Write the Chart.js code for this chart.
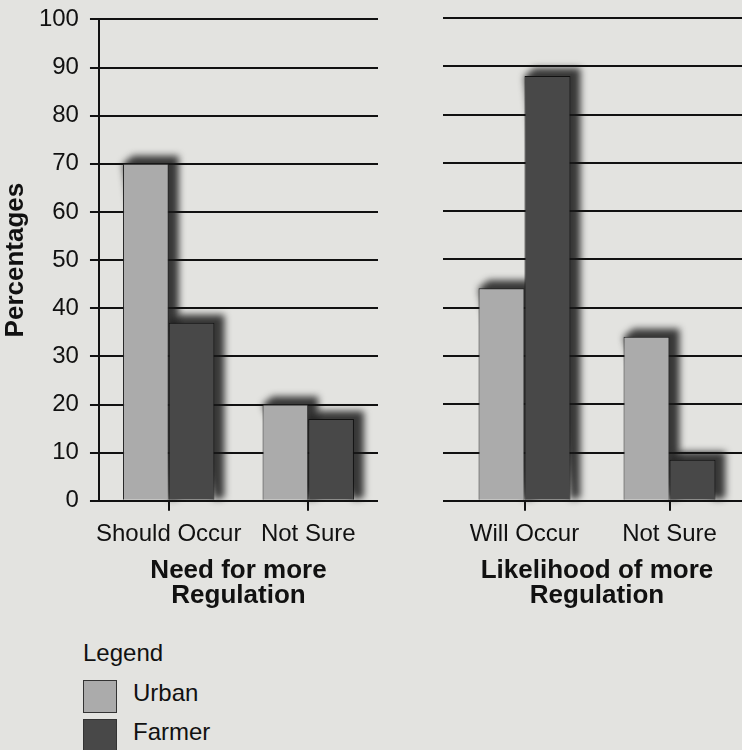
<!DOCTYPE html>
<html>
<head>
<meta charset="utf-8">
<script src="https://cdn.jsdelivr.net/npm/chart.js@4.4.1/dist/chart.umd.min.js"></script>
<style>
    html, body { margin: 0; padding: 0; }
    body {
        width: 742px; height: 750px; overflow: hidden; position: relative;
        background: #e3e3e0;
        font-family: "Liberation Sans", Arial, sans-serif; color: #111;
    }
    .panel { position: absolute; }
    #leftPanel { left: 0; top: -6px; width: 380px; height: 614px; }
    #rightPanel { left: 443px; top: 0; width: 299px; height: 608px; }
    #legend { position: absolute; left: 83px; top: 639px; font-size: 24px; line-height: 28px; }
    #legend .item { position: relative; height: 39px; }
    #legend .swatch {
        position: absolute; left: 0; top: 2px; width: 32px; height: 31px;
        border: 1px solid #333;
    }
    #legend .label { position: absolute; left: 50px; top: 1px; }
    #legend .head { height: 39px; }
</style>
</head>
<body>
<div class="panel" id="leftPanel"><canvas id="needChart"></canvas></div>
<div class="panel" id="rightPanel"><canvas id="likelyChart"></canvas></div>
<div id="legend"></div>

<script>
// --- Data ---
const needLabels = ['Should Occur', 'Not Sure'];
const likelyLabels = ['Will Occur', 'Not Sure'];
const urbanNeed = [70, 20];
const farmerNeed = [37, 17];
const urbanLikely = [44, 34];
const farmerLikely = [88, 8.5];
const seriesNames = ['Urban', 'Farmer'];
const yMin = 0;
const yMax = 100;
const yStep = 10;

const FONT = '"Liberation Sans", Arial, sans-serif';
const INK = '#111';
const urbanColor = '#ababab';
const farmerColor = '#484848';

// --- 3D-ish drop shadow behind each bar ---
const barShadow = {
    id: 'barShadow',
    beforeDatasetsDraw(chart) {
        const ctx = chart.ctx;
        const dx = 10, dy = -8;
        ctx.save();
        ctx.filter = 'blur(3.5px)';
        ctx.fillStyle = 'rgba(25,25,25,0.85)';
        chart.data.datasets.forEach((ds, i) => {
            chart.getDatasetMeta(i).data.forEach(bar => {
                const x0 = bar.x - bar.width / 2;
                const x1 = bar.x + bar.width / 2;
                const top = bar.y;
                const base = bar.base;
                ctx.beginPath();
                ctx.moveTo(x0, top);
                ctx.lineTo(x0 + dx, top + dy);
                ctx.lineTo(x1 + dx, top + dy);
                ctx.lineTo(x1 + dx, base - 2);
                ctx.lineTo(x1, base);
                ctx.closePath();
                ctx.fill();
            });
        });
        ctx.restore();
    }
};

function makeChart(canvasId, labels, urban, farmer, title, isLeft) {
    return new Chart(document.getElementById(canvasId), {
        type: 'bar',
        data: {
            labels: labels,
            datasets: [{
                label: seriesNames[0],
                data: urban,
                backgroundColor: urbanColor,
                borderColor: '#222',
                borderWidth: 1
            }, {
                label: seriesNames[1],
                data: farmer,
                backgroundColor: farmerColor,
                borderColor: '#111',
                borderWidth: 1
            }]
        },
        options: {
            responsive: true,
            maintainAspectRatio: false,
            animation: false,
            datasets: {
                bar: {
                    categoryPercentage: isLeft ? 0.655 : 0.634,
                    barPercentage: 1
                }
            },
            layout: { padding: { top: isLeft ? 12 : 18, right: isLeft ? 2 : 0, left: 0, bottom: 0 } },
            plugins: {
                legend: { display: false },
                tooltip: { enabled: false }
            },
            scales: {
                x: {
                    grid: {
                        display: true,
                        drawOnChartArea: false,
                        drawTicks: true,
                        tickLength: 10,
                        offset: false,
                        color: INK,
                        lineWidth: 2
                    },
                    border: { display: false },
                    ticks: {
                        color: INK,
                        font: { family: FONT, size: 24 },
                        padding: 9,
                        maxRotation: 0,
                        autoSkip: false
                    },
                    title: {
                        display: true,
                        text: title,
                        color: INK,
                        font: { family: FONT, size: 26, weight: 'bold', lineHeight: 0.95 },
                        padding: { top: 1, bottom: 0 }
                    }
                },
                y: {
                    min: yMin,
                    max: yMax,
                    grid: {
                        color: INK,
                        lineWidth: 2,
                        drawTicks: true,
                        tickLength: 9
                    },
                    border: { display: isLeft, color: INK, width: 2 },
                    ticks: {
                        display: isLeft,
                        stepSize: yStep,
                        color: INK,
                        font: { family: FONT, size: 24 },
                        padding: 11
                    },
                    title: {
                        display: isLeft,
                        text: 'Percentages',
                        color: INK,
                        font: { family: FONT, size: 26, weight: 'bold', lineHeight: 0.92 },
                        padding: { top: 4, bottom: 0 }
                    }
                }
            }
        },
        plugins: [barShadow]
    });
}

const needChart = makeChart('needChart', needLabels, urbanNeed, farmerNeed, ['Need for more', 'Regulation'], true);
const likelyChart = makeChart('likelyChart', likelyLabels, urbanLikely, farmerLikely, ['Likelihood of more', 'Regulation'], false);

// --- HTML legend built from the chart's datasets ---
const legendEl = document.getElementById('legend');
const head = document.createElement('div');
head.className = 'head';
head.textContent = 'Legend';
legendEl.appendChild(head);
needChart.data.datasets.forEach(ds => {
    const item = document.createElement('div');
    item.className = 'item';
    item.innerHTML = '<span class="swatch" style="background:' + ds.backgroundColor + '"></span>' +
        '<span class="label">' + ds.label + '</span>';
    legendEl.appendChild(item);
});
</script>
</body>
</html>
